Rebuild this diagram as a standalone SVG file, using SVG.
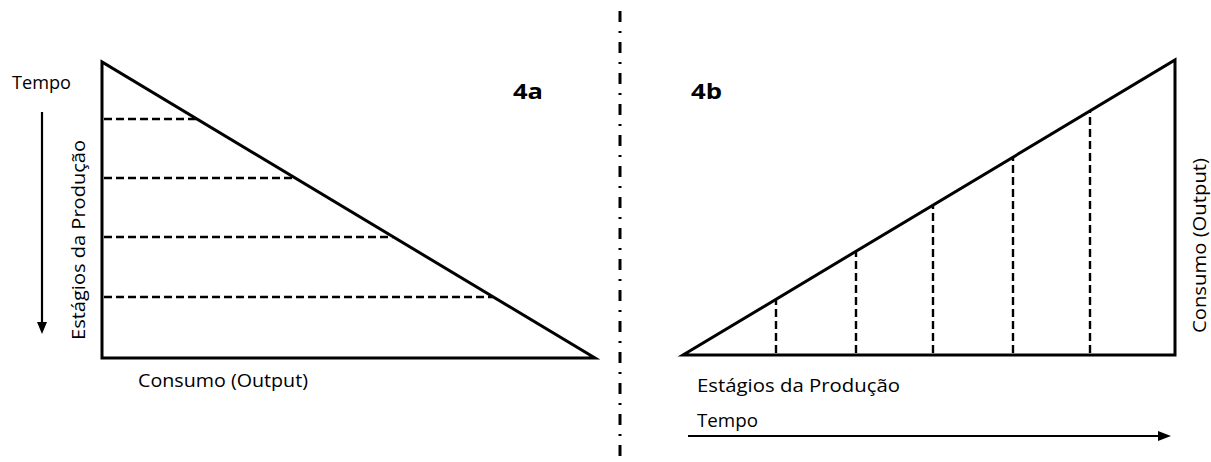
<svg xmlns="http://www.w3.org/2000/svg" width="1211" height="462" viewBox="0 0 1211 462">
<style>
.bg{fill:#fff}
.tri{fill:none;stroke:#000;stroke-width:3;stroke-linejoin:miter}
.dash{stroke:#000;stroke-width:2.4;stroke-dasharray:8 4;fill:none}
.sep{stroke:#000;stroke-width:3;stroke-dasharray:11 9 2 9;fill:none}
.arr{stroke:#000;stroke-width:2.2;fill:none}
.head{fill:#000}
.lbl{font-family:"Open Sans","Liberation Sans",Arial,sans-serif;font-size:19px;fill:#000}
.big{font-family:"Open Sans","Liberation Sans",Arial,sans-serif;font-size:21px;font-weight:bold;fill:#000}
</style>
<rect class="bg" x="0" y="0" width="1211" height="462"/>
<g id="separator">
<line class="sep" x1="620" y1="11" x2="620" y2="462"/>
</g>
<g id="diagram-4a">
<path class="tri" d="M102,62 L102,358 L595,358 Z"/>
<line class="dash" x1="104" y1="119" x2="197" y2="119"/>
<line class="dash" x1="104" y1="178" x2="295" y2="178"/>
<line class="dash" x1="104" y1="237" x2="393" y2="237"/>
<line class="dash" x1="104" y1="297" x2="493" y2="297"/>
<text class="big" x="513" y="99" textLength="30" lengthAdjust="spacingAndGlyphs">4a</text>
</g>
<g id="diagram-4b">
<path class="tri" d="M683,355 L1175,355 L1175,60 Z"/>
<line class="dash" x1="776" y1="353" x2="776" y2="299"/>
<line class="dash" x1="856" y1="353" x2="856" y2="251"/>
<line class="dash" x1="933" y1="353" x2="933" y2="205"/>
<line class="dash" x1="1013" y1="353" x2="1013" y2="157"/>
<line class="dash" x1="1090" y1="353" x2="1090" y2="111"/>
<text class="big" x="691" y="99" textLength="31" lengthAdjust="spacingAndGlyphs">4b</text>
</g>
<g id="connectors">
<line class="arr" x1="42" y1="112" x2="42" y2="324"/>
<polygon class="head" points="37,322 47,322 42,334"/>
<line class="arr" x1="688" y1="436" x2="1160" y2="436"/>
<polygon class="head" points="1158,431 1158,441 1171,436"/>
</g>
<g id="labels-4a">
<text class="lbl" x="12" y="89" textLength="59" lengthAdjust="spacingAndGlyphs">Tempo</text>
<text class="lbl" transform="translate(85,340) rotate(-90)" x="0" y="0" textLength="200" lengthAdjust="spacingAndGlyphs">Estágios da Produção</text>
<text class="lbl" x="138" y="387" textLength="170" lengthAdjust="spacingAndGlyphs">Consumo (Output)</text>
</g>
<g id="labels-4b">
<text class="lbl" x="697" y="392" textLength="203" lengthAdjust="spacingAndGlyphs">Estágios da Produção</text>
<text class="lbl" x="697" y="427" textLength="61" lengthAdjust="spacingAndGlyphs">Tempo</text>
<text class="lbl" transform="translate(1206,333) rotate(-90)" x="0" y="0" textLength="175" lengthAdjust="spacingAndGlyphs">Consumo (Output)</text>
</g>
</svg>
